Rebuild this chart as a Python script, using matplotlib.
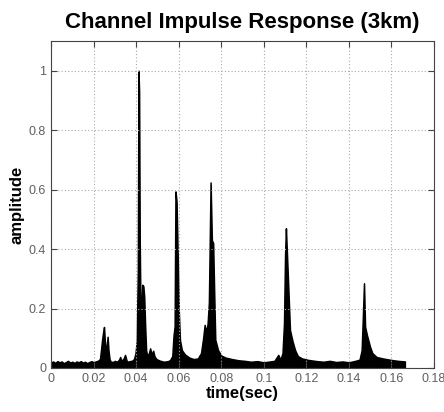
import numpy as np
import matplotlib.pyplot as plt

plt.rcParams['font.family'] = ['Liberation Sans', 'DejaVu Sans']

# time (s) and amplitude
time = [
    0.000, 0.001, 0.002, 0.003, 0.004, 0.005, 0.006, 0.007, 0.008, 0.009,
    0.010, 0.011, 0.012, 0.013, 0.014, 0.015, 0.016, 0.017, 0.018, 0.019,
    0.020, 0.021, 0.022, 0.023, 0.0235, 0.024, 0.0245, 0.0249, 0.0253, 0.0257,
    0.0261, 0.0266, 0.0270, 0.0275, 0.028, 0.029, 0.030, 0.031, 0.032, 0.0325,
    0.033, 0.034, 0.0348, 0.0355, 0.036, 0.037, 0.038, 0.039, 0.0397, 0.0403,
    0.0408, 0.0411, 0.0414, 0.0417, 0.0420, 0.0425, 0.0429, 0.0434, 0.0438, 0.0442,
    0.0447, 0.0452, 0.0460, 0.0466, 0.0472, 0.0480, 0.0486, 0.0495, 0.051, 0.053,
    0.055, 0.056, 0.057, 0.0576, 0.0581, 0.0585, 0.0590, 0.0595, 0.0600, 0.0606,
    0.0615, 0.063, 0.065, 0.067, 0.069, 0.0705, 0.0715, 0.0722, 0.0730, 0.0736,
    0.0742, 0.0750, 0.0756, 0.0762, 0.0767, 0.0772, 0.0785, 0.080, 0.082, 0.085,
    0.088, 0.091, 0.094, 0.097, 0.100, 0.103, 0.105, 0.1068, 0.1078, 0.1088,
    0.1095, 0.1100, 0.1104, 0.1108, 0.1115, 0.1123, 0.1135, 0.1147, 0.116, 0.118,
    0.121, 0.125, 0.128, 0.131, 0.134, 0.137, 0.140, 0.143, 0.145, 0.146,
    0.1466, 0.1471, 0.1476, 0.1485, 0.1499, 0.151, 0.153, 0.156, 0.160, 0.163,
    0.1663,
]
amplitude = [
    0.018, 0.022, 0.017, 0.023, 0.019, 0.022, 0.016, 0.020, 0.024, 0.018,
    0.021, 0.017, 0.022, 0.019, 0.023, 0.018, 0.021, 0.016, 0.020, 0.023,
    0.019, 0.022, 0.024, 0.030, 0.060, 0.095, 0.120, 0.138, 0.090, 0.055,
    0.070, 0.105, 0.060, 0.030, 0.022, 0.020, 0.024, 0.021, 0.028, 0.037,
    0.025, 0.030, 0.044, 0.025, 0.021, 0.023, 0.024, 0.030, 0.050, 0.090,
    0.330, 1.000, 0.930, 0.420, 0.230, 0.200, 0.280, 0.275, 0.240, 0.150,
    0.060, 0.040, 0.050, 0.066, 0.045, 0.058, 0.040, 0.030, 0.025, 0.021,
    0.023, 0.027, 0.040, 0.110, 0.140, 0.594, 0.560, 0.390, 0.200, 0.094,
    0.060, 0.045, 0.035, 0.030, 0.032, 0.050, 0.100, 0.145, 0.120, 0.150,
    0.220, 0.624, 0.430, 0.420, 0.250, 0.095, 0.060, 0.042, 0.035, 0.030,
    0.026, 0.024, 0.021, 0.023, 0.019, 0.022, 0.024, 0.044, 0.028, 0.050,
    0.150, 0.380, 0.470, 0.400, 0.274, 0.128, 0.090, 0.060, 0.040, 0.032,
    0.027, 0.023, 0.021, 0.024, 0.020, 0.022, 0.019, 0.024, 0.028, 0.060,
    0.180, 0.285, 0.139, 0.110, 0.072, 0.050, 0.037, 0.032, 0.027, 0.024,
    0.022,
]

xticks = [0, 0.02, 0.04, 0.06, 0.08, 0.1, 0.12, 0.14, 0.16, 0.18]
xlabels = ['0', '0.02', '0.04', '0.06', '0.08', '0.1', '0.12', '0.14', '0.16', '0.18']
yticks = [0, 0.2, 0.4, 0.6, 0.8, 1]
ylabels = ['0', '0.2', '0.4', '0.6', '0.8', '1']

fig = plt.figure(figsize=(4.44, 4.12), dpi=100)
ax = fig.add_axes([0.1149, 0.1068, 0.8626, 0.7937])

t = np.array(time)
a = np.array(amplitude)
ax.fill_between(t, 0, a, color='black', edgecolor='black', linewidth=1.1)

ax.set_xlim(0, 0.18)
ax.set_ylim(0, 1.1)
ax.set_xticks(xticks)
ax.set_xticklabels(xlabels)
ax.set_yticks(yticks)
ax.set_yticklabels(ylabels)
ax.grid(True, linestyle=(0, (1, 2)), color='#aaaaaa', linewidth=0.8)
ax.tick_params(direction='in', top=True, right=True, length=4, colors='#444444',
               labelcolor='#606060', labelsize=9)
for s in ax.spines.values():
    s.set_color('#444444')

ax.set_title('Channel Impulse Response (3km)', fontsize=16, fontweight='bold', pad=9)
ax.set_xlabel('time(sec)', fontsize=12, fontweight='bold', labelpad=1)
ax.set_ylabel('amplitude', fontsize=12, fontweight='bold', labelpad=3)

fig.savefig('out.png', dpi=100)
